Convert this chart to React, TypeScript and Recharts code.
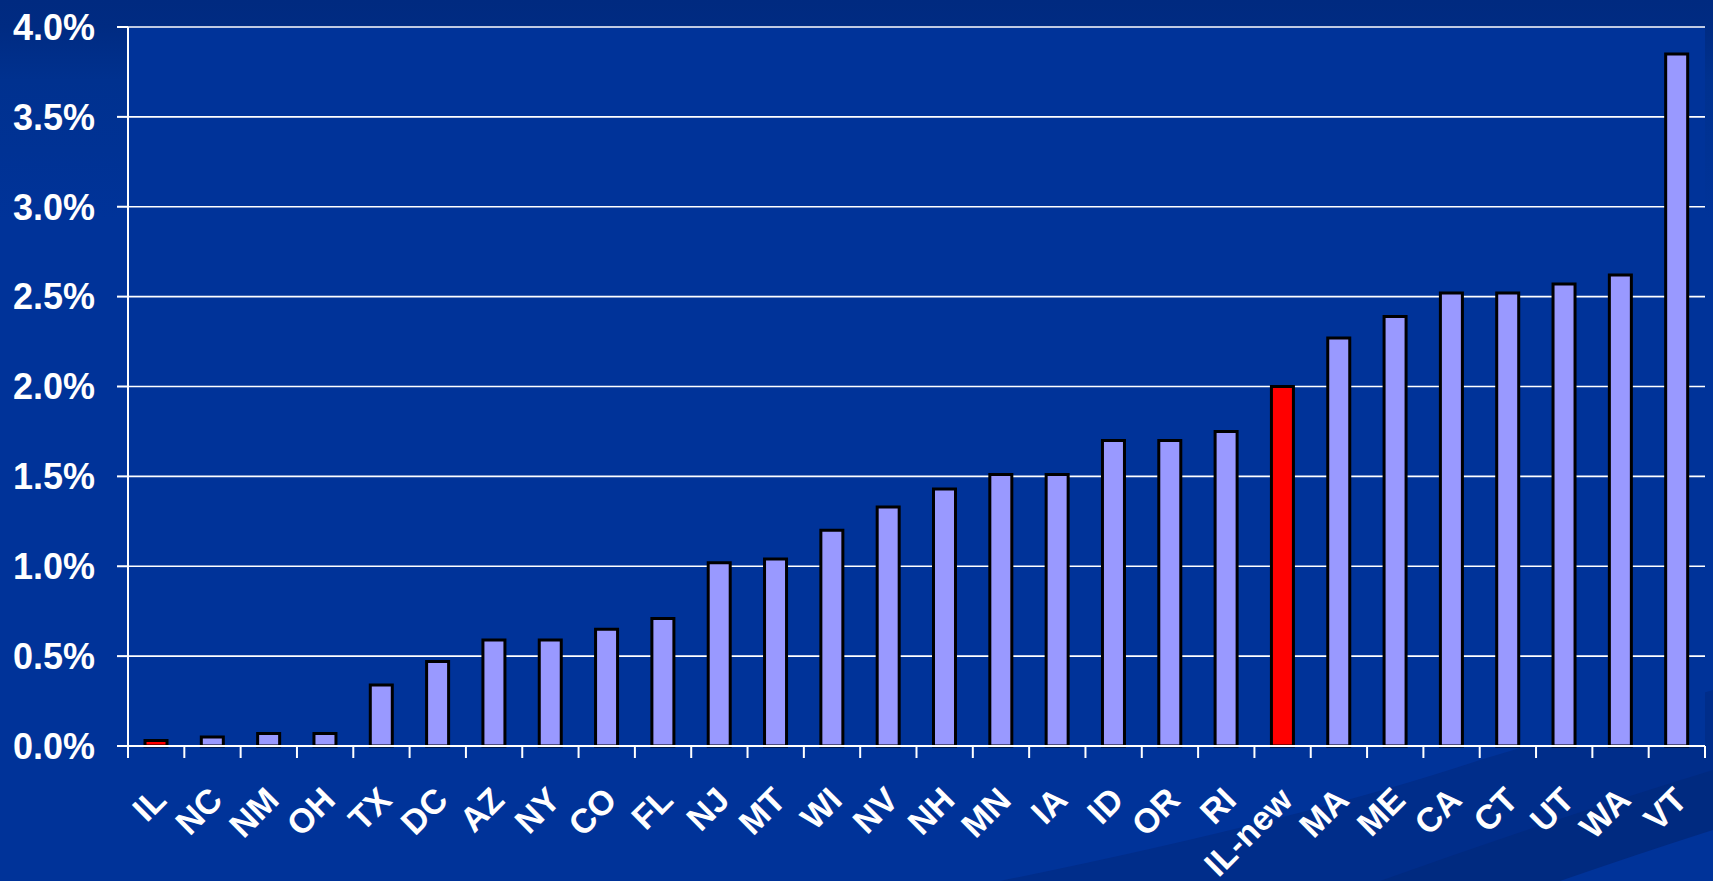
import React from 'react';
import { Bar, BarChart, CartesianGrid, Cell, XAxis, YAxis } from 'recharts';

const states = [
  'IL', 'NC', 'NM', 'OH', 'TX', 'DC', 'AZ', 'NY', 'CO', 'FL', 'NJ', 'MT', 'WI', 'NV',
  'NH', 'MN', 'IA', 'ID', 'OR', 'RI', 'IL-new', 'MA', 'ME', 'CA', 'CT', 'UT', 'WA', 'VT',
];

// percent values
const shares = [
  0.03, 0.05, 0.07, 0.07, 0.34, 0.47, 0.59, 0.59, 0.65, 0.71, 1.02, 1.04, 1.2, 1.33,
  1.43, 1.51, 1.51, 1.7, 1.7, 1.75, 2.0, 2.27, 2.39, 2.52, 2.52, 2.57, 2.62, 3.85,
];

const highlighted = ['IL', 'IL-new'];

const yTicks = [0, 0.5, 1, 1.5, 2, 2.5, 3, 3.5, 4];

const data = states.map((state, i) => ({ state, share: shares[i] }));

const WIDTH = 1713;
const HEIGHT = 881;
const Y_AXIS_W = 128;
const RIGHT = 8;
const BAND = (WIDTH - Y_AXIS_W - RIGHT) / states.length;
const FONT = '"Liberation Sans", Arial, sans-serif';

const StateTick = (props: any) => {
  const { x, y, payload, index } = props;
  const half = BAND / 2;
  const ax = x + 12;
  const ay = y + 56;
  return (
    <g>
      <line x1={x - half} y1={y} x2={x - half} y2={y + 12} stroke="#fff" strokeWidth={2} />
      {index === states.length - 1 && (
        <line x1={x + half} y1={y} x2={x + half} y2={y + 12} stroke="#fff" strokeWidth={2} />
      )}
      <text
        x={ax}
        y={ay}
        transform={`rotate(-45, ${ax}, ${ay})`}
        textAnchor="end"
        fill="#fff"
        fontSize={34}
        fontWeight="bold"
        fontFamily={FONT}
      >
        {payload.value}
      </text>
    </g>
  );
};

const App = () => {
  return (
    <div
      style={{
        position: 'absolute',
        left: 0,
        top: 0,
        width: WIDTH,
        height: HEIGHT,
        overflow: 'hidden',
        background: 'linear-gradient(#002a80 0px, #002b82 26px, #00318f 80px, #003399 220px)',
      }}
    >
      <svg width={WIDTH} height={HEIGHT} style={{ position: 'absolute', left: 0, top: 0 }}>
        <path d="M 1000 881 Q 1300 820 1480 760 L 1713 690 L 1713 881 Z" fill="#002d8a" />
        <path d="M 1380 881 Q 1550 820 1713 770 L 1713 881 Z" fill="#002a80" />
        <path d="M 1560 881 Q 1650 850 1713 830 L 1713 881 Z" fill="#003399" />
      </svg>
      <div style={{ position: 'absolute', left: 0, top: 0 }}>
        <BarChart
          width={WIDTH}
          height={HEIGHT}
          data={data}
          margin={{ top: 27, right: RIGHT, bottom: 0, left: 0 }}
          barSize={22}
        >
          <CartesianGrid vertical={false} stroke="#fff" strokeWidth={1.6} fill="#003399" />
          <XAxis
            dataKey="state"
            height={135}
            interval={0}
            tickLine={false}
            tickSize={0}
            tickMargin={0}
            axisLine={{ stroke: '#fff', strokeWidth: 2 }}
            tick={<StateTick />}
          />
          <YAxis
            width={Y_AXIS_W}
            domain={[0, 4]}
            ticks={yTicks}
            interval={0}
            tickFormatter={(v: number) => `${v.toFixed(1)}%`}
            tickSize={11}
            tickMargin={22}
            axisLine={{ stroke: '#fff', strokeWidth: 2 }}
            tickLine={{ stroke: '#fff', strokeWidth: 2 }}
            tick={{ fill: '#fff', fontSize: 36, fontWeight: 'bold', fontFamily: FONT }}
          />
          <Bar dataKey="share" stroke="#000" strokeWidth={3} isAnimationActive={false}>
            {data.map((d) => (
              <Cell key={d.state} fill={highlighted.includes(d.state) ? '#ff0000' : '#9999ff'} />
            ))}
          </Bar>
        </BarChart>
      </div>
    </div>
  );
};

export default App;
